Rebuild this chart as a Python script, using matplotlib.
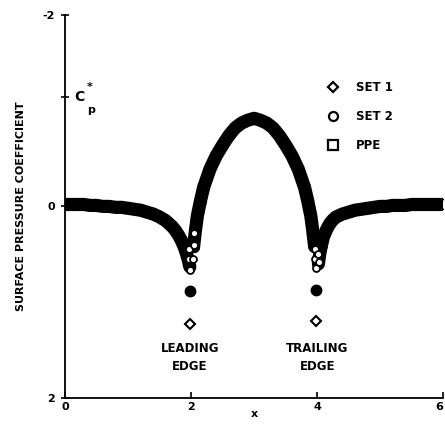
import matplotlib.pyplot as plt
from matplotlib.lines import Line2D

# main curve (all three sets overlap along it)
x_left = [0.0, 0.1, 0.2, 0.3, 0.4, 0.5, 0.6, 0.7, 0.8, 0.9, 1.0, 1.1, 1.2, 1.3, 1.4, 1.5,
          1.6, 1.7, 1.75, 1.8, 1.85, 1.9, 1.93, 1.96, 1.98]
cp_left = [-0.02, -0.02, -0.02, -0.02, -0.01, -0.01, 0.0, 0.0, 0.01, 0.01, 0.02, 0.03, 0.04,
           0.06, 0.08, 0.11, 0.15, 0.21, 0.25, 0.3, 0.36, 0.44, 0.5, 0.57, 0.63]
x_mid = [2.04, 2.07, 2.1, 2.15, 2.2, 2.3, 2.4, 2.5, 2.6, 2.7, 2.8, 2.9, 3.0,
         3.1, 3.2, 3.3, 3.4, 3.5, 3.6, 3.7, 3.8, 3.85, 3.9, 3.93, 3.96]
cp_mid = [0.42, 0.25, 0.1, -0.06, -0.2, -0.39, -0.53, -0.64, -0.74, -0.82, -0.87, -0.9, -0.92,
          -0.9, -0.87, -0.82, -0.74, -0.64, -0.53, -0.39, -0.2, -0.06, 0.1, 0.25, 0.42]
x_right = [4.02, 4.04, 4.07, 4.1, 4.15, 4.2, 4.25, 4.3, 4.4, 4.5, 4.6, 4.7, 4.8, 4.9, 5.0,
           5.1, 5.2, 5.3, 5.4, 5.5, 5.6, 5.7, 5.8, 5.9, 6.0]
cp_right = [0.6, 0.5, 0.4, 0.32, 0.24, 0.18, 0.14, 0.11, 0.08, 0.06, 0.04, 0.03, 0.02, 0.01, 0.0,
            0.0, -0.01, -0.01, -0.01, -0.02, -0.02, -0.02, -0.02, -0.02, -0.02]

# edge values
set1_x = [1.98, 3.98]
set1_cp = [1.23, 1.2]
set2_x = [1.98, 1.97, 1.96, 2.03, 2.04, 2.05, 3.96, 3.97, 3.98, 4.02, 4.03]
set2_cp = [0.66, 0.55, 0.45, 0.55, 0.4, 0.28, 0.45, 0.55, 0.64, 0.5, 0.58]
dot_x = [1.98, 3.98]
dot_cp = [0.88, 0.87]

fig = plt.figure(figsize=(4.45, 4.26), dpi=100)
ax = fig.add_axes([0.146, 0.066, 0.85, 0.899])

for xs, ys in [(x_left, cp_left), (x_mid, cp_mid), (x_right, cp_right)]:
    ax.plot(xs, ys, color='black', lw=9.5, solid_capstyle='round', solid_joinstyle='round')
    ax.plot(xs, ys, 'o', ms=7, mfc='none', mec='black', mew=1)

ax.plot(set2_x, set2_cp, 'o', ms=5, mfc='white', mec='black', mew=1.3)
ax.plot(dot_x, dot_cp, 'o', ms=7.5, color='black')
ax.plot(set1_x, set1_cp, 'D', ms=5, mfc='white', mec='black', mew=1.5)

ax.set_xlim(0, 6)
ax.set_ylim(2, -2)
ax.spines['top'].set_visible(False)
ax.spines['right'].set_visible(False)
ax.spines['left'].set_linewidth(1.3)
ax.spines['bottom'].set_linewidth(1.3)

fnt = dict(family='DejaVu Sans', weight='bold', size=8)
ax.set_xticks([0, 2, 4, 6])
ax.set_xticklabels(['0', '2', '4', '6'], **fnt)
ax.get_xticklabels()[-1].set_ha('right')
ax.set_yticks([-2, -1.14, 0, 2])
ax.set_yticklabels(['-2', '', '0', '2'], **fnt)
ax.tick_params(axis='x', direction='in', length=4, width=1.2, pad=3)
ax.tick_params(axis='y', direction='inout', length=6, width=1.2, pad=4)

ax.text(0.15, -1.14, r'$\mathbf{C}$', fontsize=10, va='center', ha='left')
ax.text(0.35, -1.25, '*', fontsize=8, weight='bold', va='center', ha='left')
ax.text(0.35, -1.01, 'p', fontsize=8, weight='bold', va='center', ha='left')

ax.set_ylabel('SURFACE PRESSURE COEFFICIENT', labelpad=12, **fnt)
ax.set_xlabel('x', labelpad=-2, **fnt)

ax.text(1.98, 1.58, 'LEADING\nEDGE', ha='center', va='center', linespacing=1.5,
        family='DejaVu Sans', weight='bold', size=8.5)
ax.text(4.0, 1.58, 'TRAILING\nEDGE', ha='center', va='center', linespacing=1.5,
        family='DejaVu Sans', weight='bold', size=8.5)

handles = [Line2D([], [], ls='none', marker='D', ms=5.5, mfc='white', mec='black', mew=1.6),
           Line2D([], [], ls='none', marker='o', ms=6.5, mfc='white', mec='black', mew=1.6),
           Line2D([], [], ls='none', marker='s', ms=6.5, mfc='white', mec='black', mew=1.6)]
ax.legend(handles, ['SET 1', 'SET 2', 'PPE'], loc='upper left', bbox_to_anchor=(0.662, 0.855),
          frameon=False, prop=dict(family='DejaVu Sans', weight='bold', size=8.5),
          handletextpad=1.3, labelspacing=1.35, handlelength=1.2)

fig.savefig('out.png', dpi=100)
